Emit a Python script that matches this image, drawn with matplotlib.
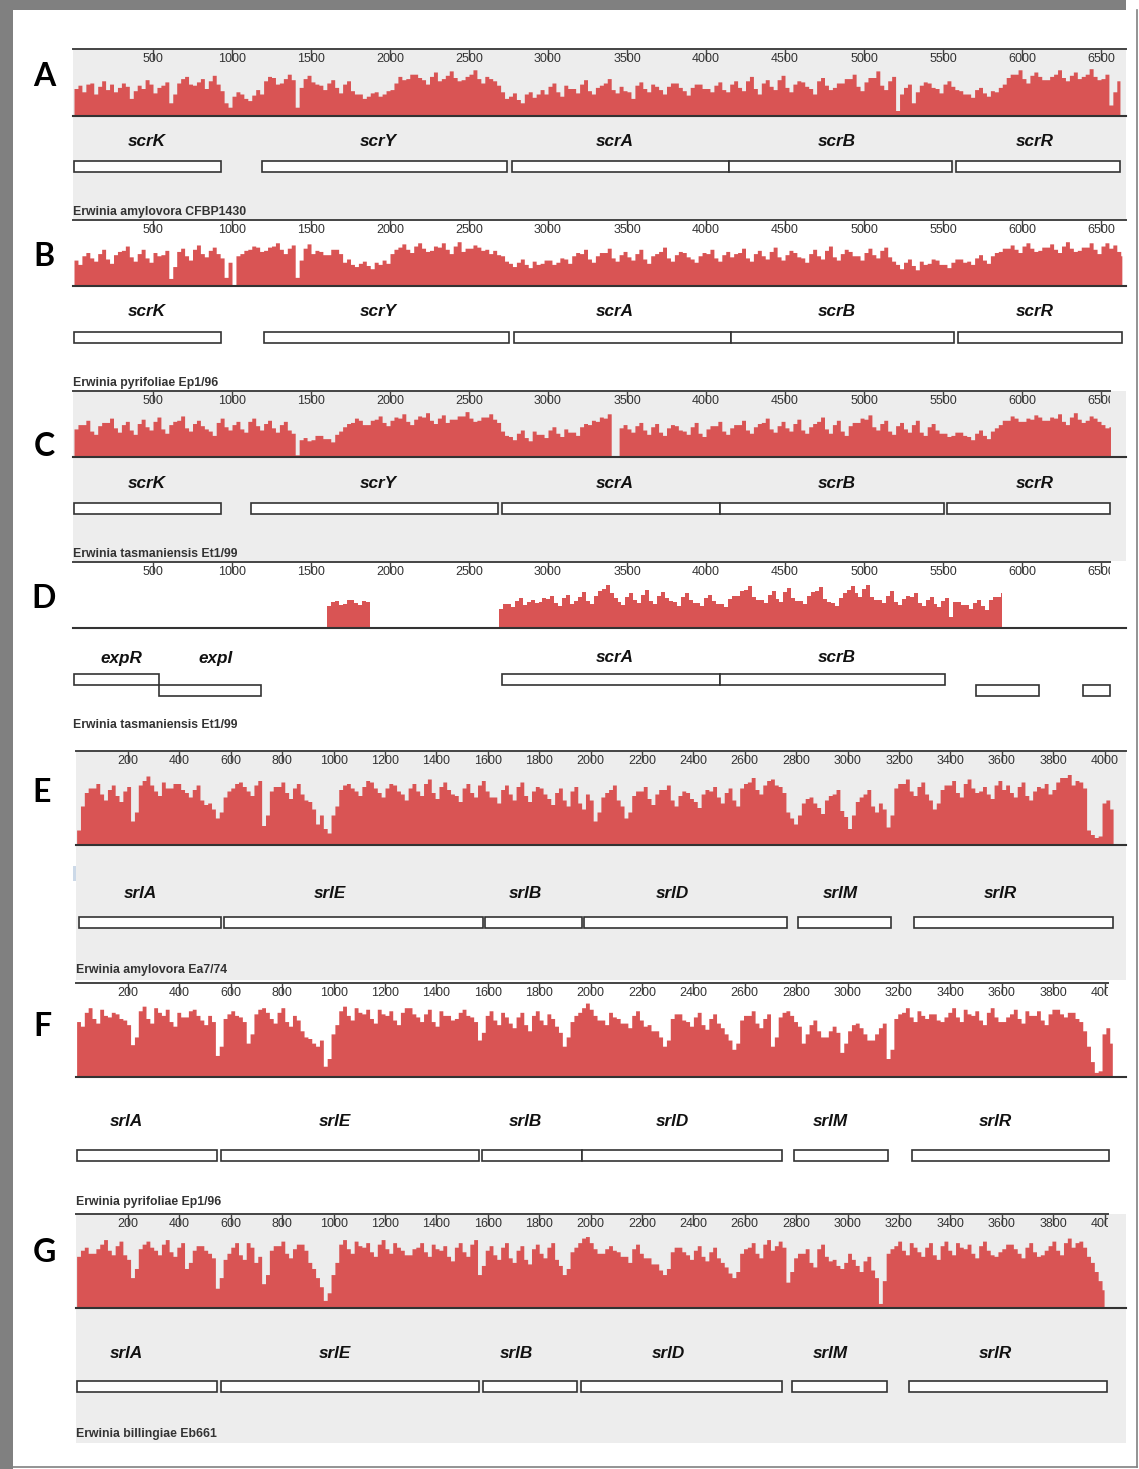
import matplotlib.pyplot as plt
import numpy as np
from matplotlib.patches import Rectangle
from matplotlib.lines import Line2D

plt.rcParams['font.family'] = ['Liberation Sans', 'DejaVu Sans']

# ---------------- data ----------------
# ruler ticks
scr_ticks = [500, 1000, 1500, 2000, 2500, 3000, 3500, 4000, 4500, 5000, 5500, 6000, 6500]
srl_ticks = [200, 400, 600, 800, 1000, 1200, 1400, 1600, 1800, 2000,
             2200, 2400, 2600, 2800, 3000, 3200, 3400, 3600, 3800, 4000]

# genes: (name, start bp, end bp, row, label position bp)
genes_a = [("scrK", 0, 930, 0, 462), ("scrY", 1190, 2741, 0, 1924), ("scrA", 2772, 4146, 0, 3424),
           ("scrB", 4146, 5557, 0, 4829), ("scrR", 5582, 6620, 0, 6082)]
genes_b = [("scrK", 0, 930, 0, 462), ("scrY", 1203, 2753, 0, 1924), ("scrA", 2785, 4158, 0, 3424),
           ("scrB", 4158, 5570, 0, 4829), ("scrR", 5595, 6633, 0, 6082)]
genes_c = [("scrK", 0, 930, 0, 462), ("scrY", 1120, 2684, 0, 1924), ("scrA", 2709, 4089, 0, 3424),
           ("scrB", 4089, 5506, 0, 4829), ("scrR", 5525, 6557, 0, 6082)]
genes_d = [("expR", 0, 538, 0, 297), ("expI", 538, 1184, 1, 899), ("scrA", 2709, 4089, 0, 3424),
           ("scrB", 4089, 5513, 0, 4829), ("", 5709, 6108, 1, None), ("", 6386, 6557, 1, None)]
genes_e = [("srlA", 9, 562, 0, 247), ("srlE", 574, 1581, 0, 986), ("srlB", 1589, 1966, 0, 1745),
           ("srlD", 1974, 2764, 0, 2317), ("srlM", 2807, 3169, 0, 2970), ("srlR", 3258, 4033, 0, 3593)]
genes_f = [("srlA", 2, 546, 0, 192), ("srlE", 562, 1566, 0, 1005), ("srlB", 1577, 1966, 0, 1745),
           ("srlD", 1966, 2745, 0, 2317), ("srlM", 2792, 3157, 0, 2932), ("srlR", 3250, 4017, 0, 3574)]
genes_g = [("srlA", 2, 546, 0, 192), ("srlE", 562, 1566, 0, 1005), ("srlB", 1581, 1947, 0, 1710),
           ("srlD", 1963, 2745, 0, 2301), ("srlM", 2784, 3153, 0, 2932), ("srlR", 3239, 4009, 0, 3574)]

# identity profiles (% identity per window)
# scr panels: 25 bp windows, srl panels: 15 bp windows
ident_a = [75, 78, 72, 79, 80, 70, 77, 82, 74, 79, 72, 76, 80, 77, 66, 73, 78, 75, 83, 79, 71, 76,
           78, 81, 62, 70, 80, 84, 86, 79, 78, 81, 84, 75, 82, 87, 79, 73, 62, 58,
           68, 72, 70, 66, 64, 69, 74, 70,
           82, 86, 85, 79, 80, 84, 88, 83, 58, 76, 84, 87, 81, 79,
           78, 74, 80, 83, 76, 71, 79, 82, 73, 70, 70, 66, 68, 71,
           72, 68, 70, 73, 74, 80,
           86, 83, 84, 88, 88, 85, 83, 79, 86, 90, 82, 84, 87, 91, 85, 82, 83, 86, 88, 92,
           84, 80, 86, 84, 82, 78,
           72, 66, 68, 71, 65, 62, 70, 72, 67, 70,
           74, 70, 77, 80, 72, 68, 78, 75, 75, 71, 79, 83, 73, 70, 76, 78, 80, 84, 74, 71,
           77, 73, 72, 66, 78, 81, 75, 72, 79, 77, 74, 70, 77, 80, 80, 76, 73, 69, 76, 79,
           79, 75, 75, 72, 78, 81, 74, 72,
           79, 82, 76, 73, 82, 86, 75, 70, 80, 83, 77, 74, 83, 87, 76, 72, 79, 82, 81, 77,
           75, 70, 82, 85, 78, 74, 76, 80, 80, 84, 84, 88, 77, 73, 81, 85, 85, 91, 78, 74,
           82, 86, 55, 70, 76, 79, 62, 72, 78, 81, 80, 76, 75, 71, 79, 82, 77, 74,
           73, 70, 70, 67, 74, 76, 71, 68, 73, 72, 76, 79,
           85, 88, 88, 92, 84, 80, 87, 90, 86, 83, 83, 86, 88, 92, 85, 82, 87, 90, 84, 86,
           88, 93, 86, 83, 84, 88, 60, 72, 82]
ident_b = [74, 70, 78, 81, 76, 73, 80, 84, 75, 71, 79, 82, 83, 87, 77, 73, 80, 84, 76, 72, 81, 78,
           79, 83, 57, 68, 82, 85, 78, 74, 84, 88, 80, 77, 83, 86, 80, 76, 58, 72,
           50, 78, 80, 83, 84, 87, 86, 82,
           83, 86, 87, 90, 84, 80, 85, 88, 58, 74, 85, 89, 80, 83,
           82, 79, 79, 84, 84, 80, 72, 75, 70, 68, 71, 73, 69, 66,
           72, 70, 74, 71, 80, 84,
           86, 89, 84, 81, 87, 90, 85, 82, 83, 87, 86, 90, 84, 80, 87, 91, 82, 85, 85, 88,
           86, 83, 84, 80, 83, 79,
           78, 73, 71, 68, 72, 75, 70, 67, 73, 70,
           71, 74, 74, 70, 72, 76, 75, 71, 78, 81, 80, 84, 75, 72, 78, 81, 81, 85, 76, 73,
           79, 82, 77, 74, 80, 84, 75, 71, 78, 80, 82, 86, 76, 73, 79, 82, 81, 77, 75, 72,
           78, 81, 80, 84, 76, 73, 79, 82,
           77, 80, 81, 85, 76, 73, 80, 83, 78, 75, 82, 86, 77, 74, 79, 83, 81, 77, 76, 72,
           80, 84, 78, 75, 83, 87, 77, 74, 80, 84, 82, 78, 78, 74, 81, 85, 79, 76, 83, 86,
           77, 73, 70, 66, 72, 75, 69, 65, 73, 70, 71, 75, 74, 70, 70, 67, 72, 75,
           75, 72, 73, 70, 76, 79, 74, 71, 78, 81, 82, 85,
           85, 88, 84, 81, 87, 90, 85, 82, 83, 86, 86, 89, 84, 81, 87, 91, 85, 82, 83, 86,
           86, 90, 84, 80, 87, 90, 85, 88, 82, 78]
ident_c = [76, 80, 80, 84, 74, 71, 79, 82, 82, 86, 77, 73, 80, 83, 75, 71, 81, 85, 78, 75,
           83, 87, 76, 72, 80, 83, 84, 88, 77, 74, 81, 84, 79, 76, 74, 70, 82, 86, 78, 75,
           80, 83, 76, 73, 83, 86, 79, 75, 81, 84, 77, 73, 80, 83, 75, 72,
           52, 66, 68, 65, 66, 70, 70, 67, 67, 64, 71, 74,
           78, 81, 82, 86, 84, 80, 80, 84, 85, 88, 82, 79, 84, 87, 86, 90, 83, 80, 85, 88,
           87, 91, 84, 81, 86, 89, 82, 85, 85, 88, 88, 92, 86, 83, 84, 87, 87, 90, 85, 82,
           74, 70, 69, 66, 72, 75, 68, 65, 74, 71, 71, 68, 75, 78, 72, 69, 76, 73, 73, 70,
           78, 81, 80, 84, 83, 87, 86, 90,
           50, 50,
           77, 80, 76, 73, 79, 82, 75, 71, 78, 81, 73, 70, 77, 80, 79, 75, 74, 71, 78, 82,
           72, 69, 76, 79, 79, 83, 74, 71, 77, 80, 80, 84, 75, 72, 78, 81, 82, 86, 76, 73,
           79, 83, 77, 74, 81, 85, 75, 72, 78, 81, 83, 87, 76, 72, 80, 84, 74, 70, 79, 82,
           82, 86, 85, 89, 78, 75, 81, 84, 74, 71, 79, 82, 76, 73, 80, 84, 73, 70, 78, 81,
           75, 72,
           72, 69, 70, 73, 73, 70, 69, 66, 72, 75, 70, 67, 74, 77,
           80, 84, 84, 88, 86, 83, 83, 86, 85, 89, 87, 84, 84, 87, 86, 90, 83, 80, 87, 91,
           85, 82, 84, 88, 86, 83, 80, 77, 78]
ident_d1 = [70, 74, 75, 71, 72, 76, 76, 73, 71, 75, 74]
ident_d2 = [68, 72, 72, 69, 75, 78, 71, 74, 76, 73, 74, 78, 77, 80, 73, 70, 78, 81, 72, 75,
            79, 83, 75, 72, 80, 84, 86, 90, 82, 78, 74, 71, 79, 82, 76, 73, 81, 85, 75, 72,
            80, 83, 78, 75, 74, 70, 79, 82, 76, 73, 73, 70, 78, 81, 75, 72, 72, 69, 77, 80,
            80, 84, 85, 89, 79, 76, 76, 73, 81, 84, 77, 74, 83, 87, 78, 75, 75, 72, 80, 83,
            84, 88, 77, 74, 73, 70, 78, 82, 85, 89, 82, 79, 86, 90, 79, 76, 76, 73, 80, 84,
            74, 71, 77, 80, 79, 82, 73, 70, 76, 79, 72, 69, 75, 78, 60, 74, 74, 71, 71, 68,
            73, 76, 70, 67, 76, 79, 79, 82]
ident_e = [60, 76, 85, 88, 88, 91, 84, 80, 87, 90, 83, 79, 86, 89, 66, 72, 90, 93, 96, 90,
           86, 83, 92, 88, 88, 91, 91, 87, 85, 82, 87, 90, 80, 77, 78, 74, 68, 72, 82, 86,
           88, 91, 92, 89, 86, 83, 90, 93, 63, 70, 86, 89, 89, 92, 85, 81, 88, 91, 84, 80,
           79, 74, 64, 70, 61, 58, 70, 76, 87, 90, 91, 88, 86, 83, 89, 93, 92, 88, 85, 82,
           88, 91, 90, 86, 84, 80, 88, 91, 86, 83, 91, 94, 85, 81, 89, 92, 87, 84, 83, 79,
           88, 91, 85, 82, 90, 93, 86, 82, 82, 78, 87, 90, 84, 80, 89, 92, 83, 79, 86, 89,
           88, 84, 81, 77, 85, 88, 80, 76, 86, 89, 78, 74, 84, 80, 66, 72, 82, 85, 87, 90,
           80, 76, 68, 72, 83, 86, 86, 89, 81, 77, 84, 87, 87, 90, 80, 76, 83, 86, 85, 81,
           79, 75, 84, 87, 86, 89, 82, 78, 85, 88, 80, 76, 88, 91, 92, 95, 87, 84, 90, 93,
           94, 90, 89, 85, 72, 68, 64, 70, 78, 81, 82, 78, 75, 71, 80, 83, 84, 87, 73, 69,
           61, 70, 79, 82, 84, 87, 76, 72, 78, 74, 62, 70, 88, 91, 91, 94, 86, 83, 89, 92,
           84, 80, 74, 78, 87, 90, 90, 93, 85, 82, 91, 94, 88, 85, 86, 89, 84, 81, 90, 93,
           87, 90, 85, 82, 89, 92, 83, 80, 86, 89, 88, 91, 84, 87, 92, 95, 95, 97, 90, 93,
           92, 88, 60, 57, 55, 56, 78, 80, 74]
ident_f = [86, 83, 92, 95, 88, 85, 94, 90, 89, 92, 91, 88, 87, 84, 71, 76, 93, 96, 88, 85,
           95, 92, 90, 94, 86, 83, 92, 89, 89, 93, 94, 90, 87, 84, 90, 86, 64, 70, 88, 91,
           93, 90, 89, 86, 72, 78, 91, 94, 95, 92, 88, 85, 92, 95, 86, 83, 90, 87, 80, 76,
           75, 72, 70, 74, 57, 62, 78, 84, 93, 96, 90, 87, 95, 92, 91, 94, 88, 85, 94, 91,
           90, 93, 87, 84, 92, 95, 95, 91, 89, 86, 91, 94, 86, 83, 93, 90, 90, 87, 88, 92,
           94, 90, 89, 86, 74, 79, 90, 93, 87, 84, 92, 89, 85, 82, 89, 92, 84, 80, 90, 93,
           87, 84, 91, 88, 83, 79, 70, 76, 86, 90, 92, 95, 98, 94, 90, 87, 87, 84, 92, 89,
           88, 85, 85, 82, 90, 93, 87, 83, 84, 80, 80, 76, 70, 74, 88, 91, 91, 87, 86, 83,
           89, 92, 84, 81, 88, 91, 85, 82, 78, 74, 68, 72, 87, 90, 90, 93, 85, 82, 88, 91,
           70, 76, 89, 92, 93, 90, 86, 83, 72, 78, 84, 87, 80, 76, 76, 80, 83, 79, 66, 72,
           80, 84, 85, 82, 78, 74, 74, 78, 82, 85, 62, 68, 88, 91, 92, 95, 89, 86, 93, 90,
           88, 91, 91, 87, 86, 89, 92, 95, 89, 86, 94, 91, 90, 93, 87, 84, 92, 95, 89, 86,
           86, 89, 91, 94, 88, 85, 93, 90, 90, 93, 87, 84, 91, 94, 94, 91, 89, 92, 92, 88,
           86, 80, 70, 60, 53, 54, 78, 82, 72]
ident_g = [84, 88, 90, 86, 86, 89, 92, 95, 88, 85, 91, 94, 85, 82, 70, 76, 89, 92, 94, 90,
           88, 85, 92, 95, 87, 84, 90, 93, 76, 80, 88, 91, 91, 88, 86, 83, 63, 70, 82, 86,
           90, 93, 85, 82, 93, 90, 80, 84, 66, 72, 88, 91, 91, 94, 86, 83, 89, 92, 92, 88,
           80, 76, 70, 64, 55, 60, 72, 80, 92, 95, 89, 86, 94, 91, 90, 93, 87, 84, 92, 95,
           89, 86, 93, 90, 88, 85, 85, 89, 90, 93, 87, 84, 92, 89, 88, 91, 84, 81, 90, 93,
           87, 84, 92, 95, 72, 78, 88, 91, 85, 82, 90, 93, 83, 80, 88, 91, 82, 79, 89, 92,
           86, 83, 90, 93, 82, 78, 72, 76, 87, 90, 93, 96, 97, 93, 89, 86, 86, 89, 91, 88,
           87, 84, 84, 80, 89, 92, 86, 83, 83, 79, 79, 75, 72, 76, 87, 90, 90, 87, 85, 82,
           88, 91, 84, 81, 87, 90, 83, 80, 77, 73, 70, 74, 86, 89, 90, 93, 86, 83, 92, 95,
           88, 91, 94, 90, 67, 74, 83, 86, 86, 89, 80, 77, 89, 92, 84, 81, 82, 78, 76, 80,
           86, 82, 78, 74, 81, 84, 75, 70, 53, 68, 86, 89, 91, 94, 88, 85, 93, 90, 87, 84,
           90, 93, 85, 82, 91, 94, 88, 85, 93, 90, 89, 92, 86, 83, 91, 94, 88, 85, 84, 87,
           89, 92, 92, 89, 86, 83, 90, 93, 87, 84, 85, 88, 91, 94, 88, 85, 93, 96, 90, 93,
           94, 90, 84, 80, 74, 68, 62]

# ---------------- styling / layout ----------------
W, H = 1139, 1469
RED = '#d95454'
BG_GRAY = '#ededed'
INK = '#333333'
RIGHT = 1126

# (letter, species, profiles [(start, step, values, end)], genes, ticks,
#  left px, top px, baseline px, bottom px, ruler end px, bp0 px, px per bp, gray?, band offset,
#  gene label y, box y, species y, letter x, letter y)
panels = [
    ("A", "Erwinia amylovora CFBP1430", [(0, 25, ident_a, 6620)], genes_a, scr_ticks,
     73, 49, 116, 219, 1126, 74, 0.158, True, 12, 141, 161, 212, 44, 77),
    ("B", "Erwinia pyrifoliae Ep1/96", [(0, 25, ident_b, 6632)], genes_b, scr_ticks,
     73, 220, 286, 390, 1126, 74, 0.158, False, 12, 311, 332, 383, 44, 257),
    ("C", "Erwinia tasmaniensis Et1/99", [(0, 25, ident_c, 6560)], genes_c, scr_ticks,
     73, 391, 457, 561, 1110, 74, 0.158, True, 12, 483, 503, 554, 44, 447),
    ("D", "Erwinia tasmaniensis Et1/99", [(1600, 25, ident_d1, 1873), (2690, 25, ident_d2, 5873)],
     genes_d, scr_ticks,
     73, 562, 628, 733, 1110, 74, 0.158, False, 12, 658, 674, 725, 44, 598),
    ("E", "Erwinia amylovora Ea7/74", [(0, 15, ident_e, 4033)], genes_e, srl_ticks,
     76, 751, 845, 980, 1126, 76.6, 0.257, True, 19, 893, 917, 970, 42, 793),
    ("F", "Erwinia pyrifoliae Ep1/96", [(0, 15, ident_f, 4030)], genes_f, srl_ticks,
     76, 983, 1077, 1210, 1108, 76.6, 0.257, False, 17, 1121, 1150, 1202, 42, 1027),
    ("G", "Erwinia billingiae Eb661", [(0, 15, ident_g, 3998)], genes_g, srl_ticks,
     76, 1214, 1308, 1443, 1108, 76.6, 0.257, True, 18, 1353, 1381, 1434, 44, 1252),
]

fig = plt.figure(figsize=(W / 100, H / 100), dpi=100)
fig.patch.set_facecolor('white')


def fig_box(x0, y0, x1, y1):
    return [x0 / W, 1 - y1 / H, (x1 - x0) / W, (y1 - y0) / H]


def bare(ax):
    for s in ax.spines.values():
        s.set_visible(False)
    ax.set_xticks([])
    ax.set_yticks([])


# outer frame
fig.add_artist(Rectangle((0, 0), 13 / W, 1, transform=fig.transFigure, color='#808080', lw=0))
fig.add_artist(Rectangle((0, 1 - 10 / H), 1126 / W, 10 / H, transform=fig.transFigure,
                         color='#808080', lw=0))
fig.add_artist(Line2D([1137 / W, 1137 / W], [1 - 10 / H, 1 - 1467 / H], transform=fig.transFigure,
                      color='#808080', lw=1.2))
fig.add_artist(Line2D([13 / W, 1137 / W], [1 - 1467 / H, 1 - 1467 / H], transform=fig.transFigure,
                      color='#808080', lw=1.2))
fig.add_artist(Rectangle((73 / W, 1 - 881 / H), 3 / W, 15 / H, transform=fig.transFigure,
                         color='#ccd9e8', lw=0))

for (letter, species, profiles, genes, ticks, left, top, base, bottom, rend, bp0, ppu, gray,
     band, lab_y, box_y, sp_y, let_x, let_y) in panels:
    xlim = ((left - bp0) / ppu, (RIGHT - bp0) / ppu)

    # background + genes
    bg = fig.add_axes(fig_box(left, top, RIGHT, bottom))
    bare(bg)
    bg.set_facecolor(BG_GRAY if gray else 'white')
    bg.set_xlim(*xlim)
    bg.set_ylim(bottom - top, 0)
    for name, start, end, row, lab_x in genes:
        bg.add_patch(Rectangle((start, box_y - top + row * 11), end - start, 11,
                               facecolor='white', edgecolor=INK, lw=1.2))
        if lab_x is not None:
            bg.text(lab_x, lab_y - top, name, ha='center', va='center', fontsize=12.3,
                    style='italic', weight='bold', color='#111111')
    bg.text(xlim[0], sp_y - top, species, ha='left', va='center', fontsize=8.8,
            weight='bold', color=INK)

    # identity profile
    prof = fig.add_axes(fig_box(left, top + band, RIGHT, base))
    bare(prof)
    prof.patch.set_visible(False)
    prof.spines['bottom'].set_visible(True)
    prof.spines['bottom'].set_color(INK)
    prof.spines['bottom'].set_linewidth(1.5)
    prof.set_xlim(*xlim)
    prof.set_ylim(50, 100)
    for start, step, vals, end in profiles:
        xs = start + step * np.arange(len(vals))
        xs = np.append(xs, max(end, xs[-1] + 1))
        ys = np.append(vals, vals[-1])
        prof.fill_between(xs, 50, ys, step='post', color=RED, lw=0)

    # ruler
    rul = fig.add_axes(fig_box(left, top, rend, top + 20))
    rul.patch.set_visible(False)
    for side in ['left', 'right', 'bottom']:
        rul.spines[side].set_visible(False)
    rul.spines['top'].set_color('#444444')
    rul.spines['top'].set_linewidth(1.4)
    rul.set_xlim(xlim[0], (rend - bp0) / ppu)
    rul.set_ylim(0, 1)
    rul.set_yticks([])
    rul.xaxis.set_ticks_position('top')
    rul.set_xticks(ticks)
    rul.tick_params(axis='x', direction='in', length=8, width=1, color='#444444',
                    labeltop=False, labelbottom=False)
    for t in ticks:
        rul.text(t, 0.52, str(t), ha='center', va='center', fontsize=9, color=INK, clip_on=True)

    fig.text(let_x / W, 1 - let_y / H, letter, ha='center', va='center', fontsize=23,
             weight='bold', family=['Lato', 'DejaVu Sans'], color='black')

fig.savefig('out.png', dpi=100)
